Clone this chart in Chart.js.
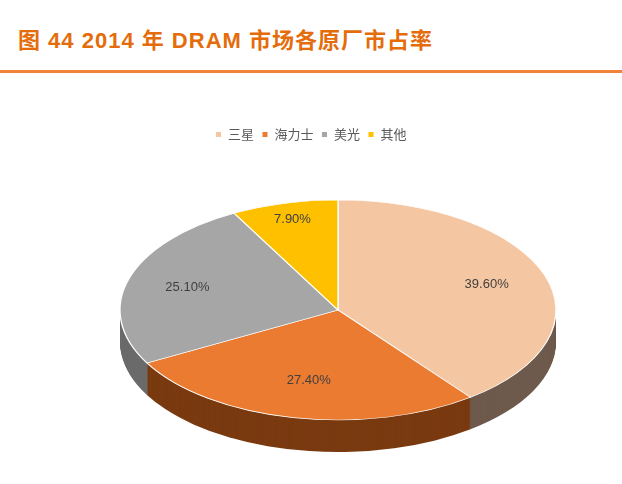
<!DOCTYPE html>
<html>
<head>
<meta charset="utf-8">
<script src="https://cdn.jsdelivr.net/npm/chart.js@4"></script>
<style>
  body { margin: 0; background: #fff; width: 622px; height: 484px; overflow: hidden; font-family: "Liberation Sans", "Noto Sans CJK SC", sans-serif; }
  #title { position: absolute; left: 18px; top: 22px; font-size: 22px; font-weight: bold; color: #E46C0A; letter-spacing: 1px; }
  #rule { position: absolute; left: 0; top: 70px; width: 622px; height: 3px; background: #F0823A; }
  #wrap { position: absolute; left: 0; top: 0; width: 622px; height: 484px; }
</style>
</head>
<body>
<div id="title">图 44 2014 年 DRAM 市场各原厂市占率</div>
<div id="rule"></div>
<div id="wrap"><canvas id="pie"></canvas></div>
<script>
// chart data
const makers = ['三星', '海力士', '美光', '其他'];
const shares = [39.6, 27.4, 25.1, 7.9];
const topColors = ['#F5C6A2', '#EA7B31', '#A6A6A6', '#FFC000'];
const sideColors = ['#6E5A4C', '#7A3A10', '#6A6A6A', '#8A6A00'];

// where the flattened pie sits on the page
const view = { x: 338, y: 310, rx: 218, ry: 110, depth: 32 };

function toScreen(arc, px, py) {
  const s = view.rx / arc.outerRadius, k = view.ry / arc.outerRadius;
  return [view.x + (px - arc.x) * s, view.y + (py - arc.y) * k];
}

const tilt = {
  id: 'tilt',
  beforeDatasetsDraw(chart) {
    const ctx = chart.ctx;
    const arcs = chart.getDatasetMeta(0).data;
    const a0 = arcs[0];
    // side walls, stacked downward
    for (let d = view.depth; d > 0; d--) {
      arcs.forEach((arc, i) => {
        ctx.beginPath();
        ctx.moveTo(view.x, view.y + d);
        ctx.ellipse(view.x, view.y + d, view.rx, view.ry, 0, arc.startAngle, arc.endAngle);
        ctx.closePath();
        ctx.fillStyle = sideColors[i];
        ctx.fill();
      });
    }
    ctx.save();
    ctx.translate(view.x, view.y);
    ctx.scale(view.rx / a0.outerRadius, view.ry / a0.outerRadius);
    ctx.translate(-a0.x, -a0.y);
  },
  afterDatasetsDraw(chart) {
    const ctx = chart.ctx;
    ctx.restore();
    const arcs = chart.getDatasetMeta(0).data;
    ctx.font = '13px "Liberation Sans", sans-serif';
    ctx.fillStyle = '#404040';
    ctx.textAlign = 'center';
    ctx.textBaseline = 'middle';
    const radii = [0.72, 0.65, 0.72, 0.85];
    arcs.forEach((arc, i) => {
      const mid = (arc.startAngle + arc.endAngle) / 2;
      const r = arc.outerRadius * radii[i];
      const p = toScreen(arc, arc.x + Math.cos(mid) * r, arc.y + Math.sin(mid) * r);
      ctx.fillText(shares[i].toFixed(2) + '%', p[0], p[1]);
    });
  }
};

new Chart(document.getElementById('pie'), {
  type: 'pie',
  data: {
    labels: makers,
    datasets: [{
      data: shares,
      backgroundColor: topColors,
      borderColor: '#ffffff',
      borderWidth: 1
    }]
  },
  options: {
    responsive: true,
    maintainAspectRatio: false,
    animation: false,
    layout: { padding: { top: 120 } },
    plugins: {
      tooltip: { enabled: false },
      legend: {
        position: 'top',
        labels: {
          boxWidth: 6, boxHeight: 6,
          color: '#595959',
          font: { size: 13, family: '"Noto Sans CJK SC", sans-serif' },
          padding: 8
        }
      }
    }
  },
  plugins: [tilt]
});
</script>
</body>
</html>
